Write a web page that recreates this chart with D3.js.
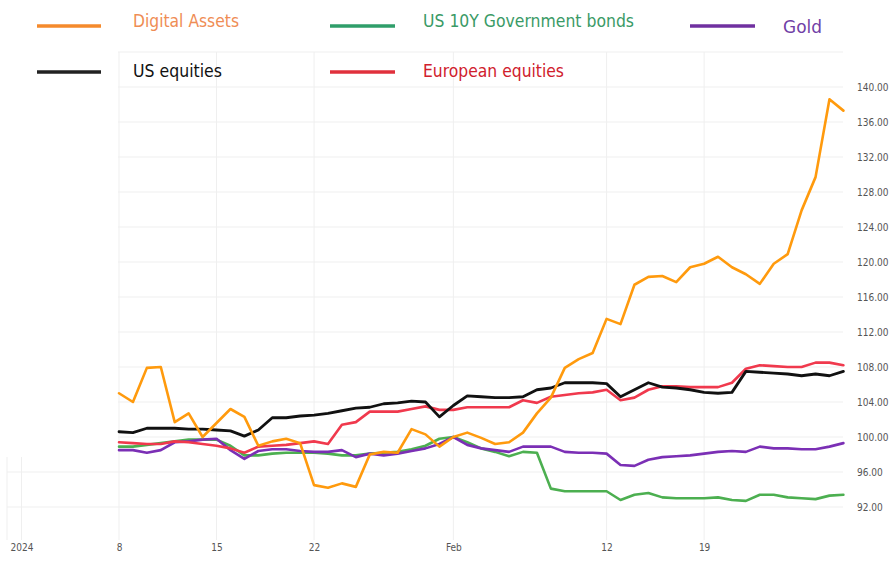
<!DOCTYPE html>
<html><head><meta charset="utf-8">
<script src="https://cdn.jsdelivr.net/npm/d3@7/dist/d3.min.js"></script>
<style>
html,body{margin:0;padding:0;background:#fff;}
svg{display:block;}
</style></head>
<body>
<svg id="chart" width="891" height="561"></svg>
<script>
const startDate = "2024-01-08";
const digitalAssets = [105.0,104.0,107.9,108.0,101.7,102.7,100.0,101.6,103.2,102.3,99.0,99.5,99.8,99.3,94.5,94.2,94.7,94.3,98.0,98.3,98.2,100.9,100.3,98.9,100.0,100.5,99.9,99.2,99.4,100.5,102.7,104.5,107.9,108.9,109.6,113.5,112.9,117.4,118.3,118.4,117.7,119.4,119.8,120.6,119.4,118.6,117.5,119.8,120.9,125.9,129.7,138.6,137.3];
const usEquities = [100.6,100.5,101.0,101.0,101.0,100.9,100.9,100.8,100.7,100.1,100.8,102.2,102.2,102.4,102.5,102.7,103.0,103.3,103.4,103.8,103.9,104.1,104.0,102.3,103.6,104.7,104.6,104.5,104.5,104.6,105.4,105.6,106.2,106.2,106.2,106.1,104.6,105.4,106.2,105.7,105.6,105.4,105.1,105.0,105.1,107.5,107.4,107.3,107.2,107.0,107.2,107.0,107.5];
const europeanEquities = [99.4,99.3,99.2,99.2,99.5,99.4,99.2,99.0,98.7,98.2,98.9,99.0,99.1,99.3,99.5,99.2,101.4,101.7,102.9,102.9,102.9,103.2,103.5,103.1,103.1,103.4,103.4,103.4,103.4,104.2,103.9,104.6,104.8,105.0,105.1,105.4,104.2,104.5,105.4,105.8,105.8,105.7,105.7,105.7,106.2,107.8,108.2,108.1,108.0,108.0,108.5,108.5,108.2];
const usBonds = [98.9,98.9,99.1,99.3,99.5,99.7,99.7,99.7,99.0,97.9,97.9,98.1,98.2,98.2,98.2,98.1,97.9,97.9,98.1,98.2,98.3,98.6,99.0,99.8,100.0,99.4,98.7,98.3,97.8,98.3,98.2,94.1,93.8,93.8,93.8,93.8,92.8,93.4,93.6,93.1,93.0,93.0,93.0,93.1,92.8,92.7,93.4,93.4,93.1,93.0,92.9,93.3,93.4];
const gold = [98.5,98.5,98.2,98.5,99.4,99.5,99.7,99.8,98.5,97.5,98.4,98.6,98.6,98.4,98.3,98.3,98.5,97.7,98.1,97.9,98.1,98.4,98.7,99.2,100.0,99.1,98.7,98.5,98.3,98.9,98.9,98.9,98.3,98.2,98.2,98.1,96.8,96.7,97.4,97.7,97.8,97.9,98.1,98.3,98.4,98.3,98.9,98.7,98.7,98.6,98.6,98.9,99.3];
const xTickDates = ["2024-01-01","2024-01-08","2024-01-15","2024-01-22","2024-02-01","2024-02-12","2024-02-19"];
const xTickLabels = ["2024","8","15","22","Feb","12","19"];
const yTicks = [92,96,100,104,108,112,116,120,124,128,132,136,140];
const yGrid = [92,96,100,104,108,112,116,120,124,128,132,136,140,144];
const seriesNames = ["Digital Assets","US 10Y Government bonds","Gold","US equities","European equities"];

const svg = d3.select("#chart");
const parse = d3.utcParse("%Y-%m-%d");
const d0 = parse(startDate);
const dates = digitalAssets.map((_, i) => d3.utcDay.offset(d0, i));

const x = d3.scaleUtc().domain([parse("2024-01-01"), parse("2024-02-29")]).range([21.5, 843.4]);
const y = d3.scaleLinear().domain([92, 140]).range([507, 87]);

const plotLeft = 7, plotRight = 843, plotTop = 52, plotBottom = 540;

// grid
const grid = svg.append("g");
grid.selectAll("line.h").data(yGrid).join("line")
  .attr("x1", plotLeft).attr("x2", plotRight)
  .attr("y1", d => y(d)).attr("y2", d => y(d))
  .attr("stroke", "#efefef").attr("stroke-width", 1);
grid.selectAll("line.v").data(xTickDates.map(parse)).join("line")
  .attr("x1", d => x(d)).attr("x2", d => x(d))
  .attr("y1", plotTop).attr("y2", plotBottom)
  .attr("stroke", "#efefef").attr("stroke-width", 1);
grid.append("line").attr("x1", plotLeft).attr("x2", plotLeft)
  .attr("y1", plotTop).attr("y2", plotBottom).attr("stroke", "#efefef");
// white cover at upper-left
svg.append("rect").attr("x", 0).attr("y", 0).attr("width", 118).attr("height", 457).attr("fill", "#fff");
svg.append("rect").attr("x", 0).attr("y", 0).attr("width", 891).attr("height", 49).attr("fill", "#fff");

// axes
const xAxis = d3.axisBottom(x).tickValues(xTickDates.map(parse))
  .tickFormat((d, i) => xTickLabels[i]).tickSize(0).tickPadding(0);
const gx = svg.append("g").attr("transform", "translate(0,544)").call(xAxis);
gx.select(".domain").remove();
gx.selectAll("text").attr("fill", "#555").attr("font-size", "10px")
  .attr("font-family", "'Liberation Sans Narrow','DejaVu Sans Condensed',sans-serif").attr("dy", "0.71em");

const yAxis = d3.axisRight(y).tickValues(yTicks).tickFormat(d3.format(".2f")).tickSize(0).tickPadding(0);
const gy = svg.append("g").attr("transform", "translate(857,0)").call(yAxis);
gy.select(".domain").remove();
gy.selectAll("text").attr("fill", "#555").attr("font-size", "10px")
  .attr("font-family", "'Liberation Sans Narrow','DejaVu Sans Condensed',sans-serif");

// lines
const line = d3.line().x((d, i) => x(dates[i])).y(d => y(d)).curve(d3.curveLinear);
const series = [
  {v: usBonds, c: "#4caf50", w: 2.6},
  {v: gold, c: "#7b2fb5", w: 2.6},
  {v: europeanEquities, c: "#f0394d", w: 2.6},
  {v: usEquities, c: "#111111", w: 2.8},
  {v: digitalAssets, c: "#ff9a0d", w: 2.6}
];
svg.append("g").selectAll("path").data(series).join("path")
  .attr("d", d => line(d.v)).attr("fill", "none")
  .attr("stroke", d => d.c).attr("stroke-width", d => d.w)
  .attr("stroke-linejoin", "round").attr("stroke-linecap", "round");

// legend
const legend = [
  {name: seriesNames[0], lc: "#f58a2c", tc: "#ef8d55", x1: 37, x2: 101, ly: 26, tx: 133, ty: 27, tw: 106},
  {name: seriesNames[1], lc: "#2f9e6a", tc: "#3a9a66", x1: 330, x2: 395, ly: 26, tx: 423, ty: 27, tw: 211},
  {name: seriesNames[2], lc: "#7030a0", tc: "#7040a6", x1: 690, x2: 755, ly: 26, tx: 783, ty: 33, tw: 39},
  {name: seriesNames[3], lc: "#222", tc: "#111", x1: 37, x2: 101, ly: 72, tx: 133, ty: 77, tw: 89},
  {name: seriesNames[4], lc: "#e0303c", tc: "#d0202c", x1: 330, x2: 395, ly: 72, tx: 423, ty: 77, tw: 141}
];
const lg = svg.append("g").selectAll("g").data(legend).join("g");
lg.append("line").attr("x1", d => d.x1).attr("x2", d => d.x2)
  .attr("y1", d => d.ly).attr("y2", d => d.ly)
  .attr("stroke", d => d.lc).attr("stroke-width", 3.5);
lg.append("text").attr("x", d => d.tx).attr("y", d => d.ty)
  .attr("fill", d => d.tc).attr("font-size", "17px")
  .attr("font-family", "'Liberation Sans Narrow','DejaVu Sans Condensed',sans-serif")
  .attr("textLength", d => d.tw).attr("lengthAdjust", "spacingAndGlyphs")
  .text(d => d.name);
</script>
</body></html>
